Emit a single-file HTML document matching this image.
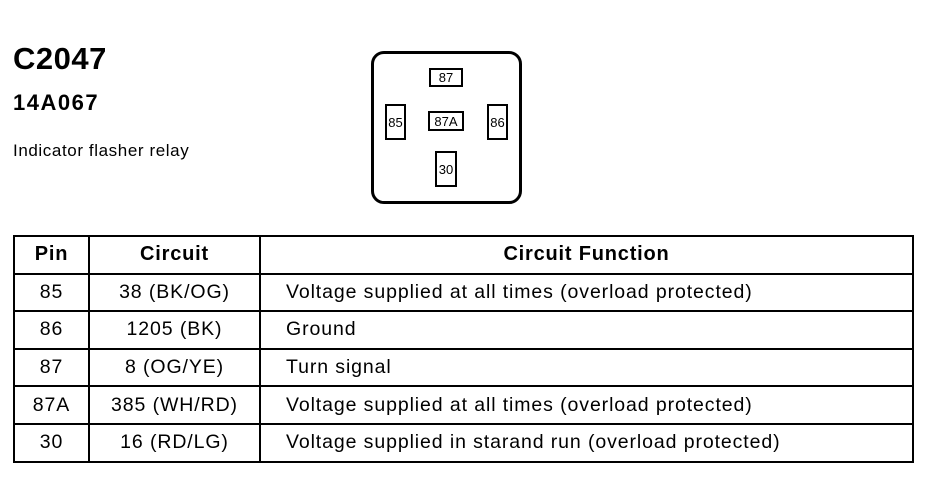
<!DOCTYPE html>
<html><head><style>
body{margin:0;width:932px;height:480px;background:#fff;position:relative;font-family:"Liberation Sans",Arial,sans-serif;color:#000;overflow:hidden}
.a{position:absolute;white-space:nowrap}
.b{position:absolute;border:2px solid #000;box-sizing:border-box;font-size:13px;display:flex;align-items:center;justify-content:center}
table{position:absolute;left:13px;top:235px;border-collapse:collapse;width:901px}
td{border:2px solid #000;height:37.6px;font-size:19.5px;padding:0;text-align:center;letter-spacing:0.9px;box-sizing:border-box}
td.f{text-align:left;padding-left:25px}
tr.h td{font-weight:bold;font-size:20px;letter-spacing:0.8px}
</style></head><body>
<div class="a" style="left:13px;top:41px;font-size:31px;font-weight:bold;letter-spacing:0.5px">C2047</div>
<div class="a" style="left:13px;top:90px;font-size:22px;font-weight:bold;letter-spacing:1.5px">14A067</div>
<div class="a" style="left:13px;top:141px;font-size:17px;letter-spacing:0.6px">Indicator flasher relay</div>
<div style="position:absolute;left:371px;top:51px;width:151px;height:153px;border:3px solid #000;border-radius:13px;box-sizing:border-box"></div>
<div class="b" style="left:429px;top:68px;width:34px;height:19px">87</div>
<div class="b" style="left:428px;top:111px;width:36px;height:20px">87A</div>
<div class="b" style="left:385px;top:104px;width:21px;height:36px">85</div>
<div class="b" style="left:487px;top:104px;width:21px;height:36px">86</div>
<div class="b" style="left:435px;top:151px;width:22px;height:36px">30</div>
<table>
<colgroup><col style="width:75px"><col style="width:171px"><col></colgroup>
<tr class="h"><td>Pin</td><td>Circuit</td><td>Circuit Function</td></tr>
<tr><td>85</td><td>38 (BK/OG)</td><td class="f">Voltage supplied at all times (overload protected)</td></tr>
<tr><td>86</td><td>1205 (BK)</td><td class="f">Ground</td></tr>
<tr><td>87</td><td>8 (OG/YE)</td><td class="f">Turn signal</td></tr>
<tr><td>87A</td><td>385 (WH/RD)</td><td class="f">Voltage supplied at all times (overload protected)</td></tr>
<tr><td>30</td><td>16 (RD/LG)</td><td class="f">Voltage supplied in starand run (overload protected)</td></tr>
</table>
</body></html>
